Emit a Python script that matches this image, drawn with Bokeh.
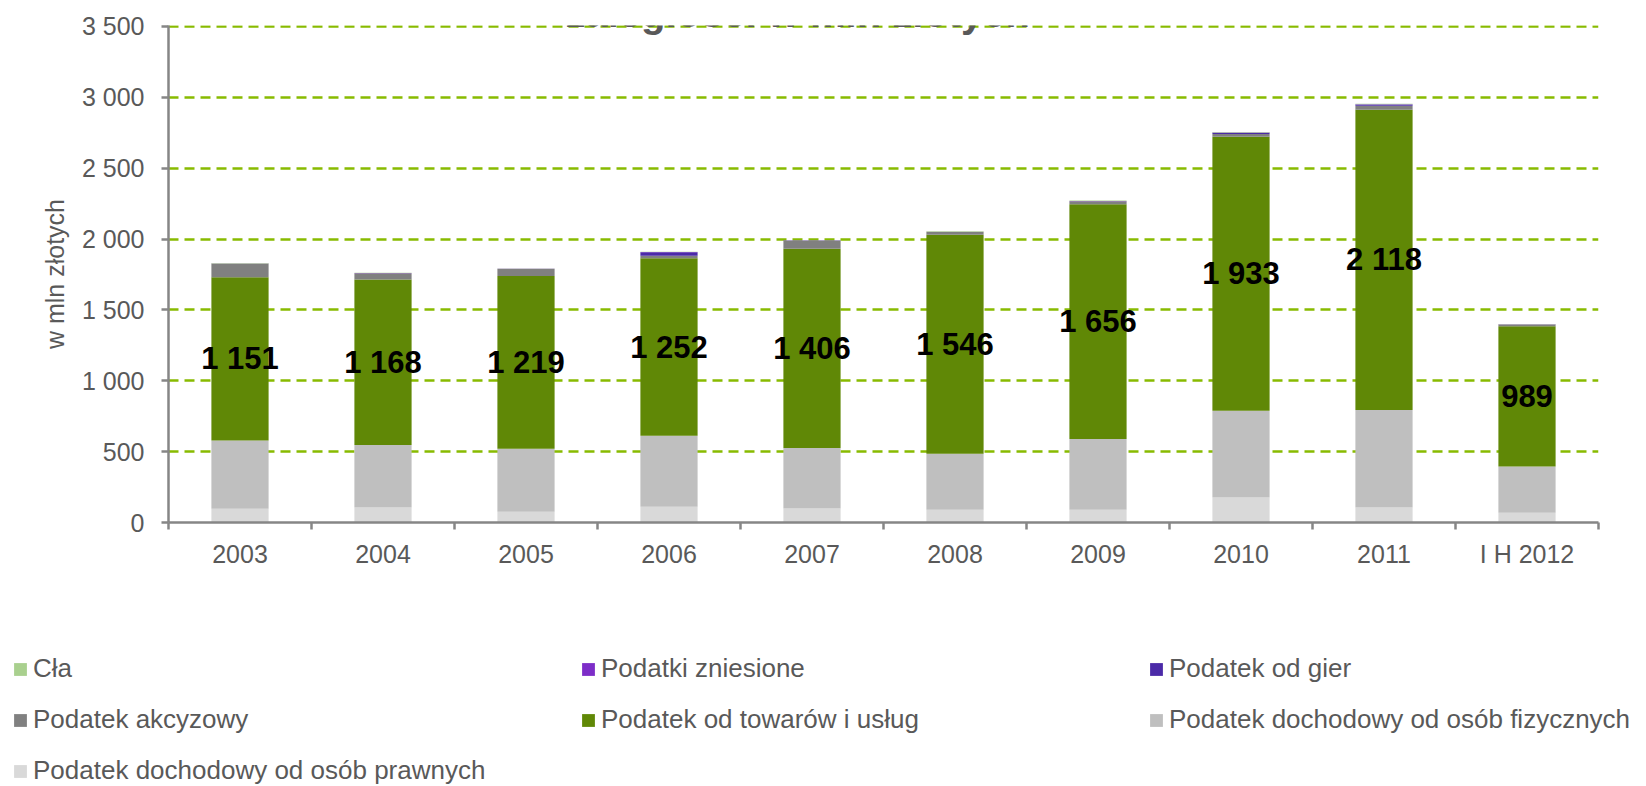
from bokeh.plotting import figure
from bokeh.layouts import column
from bokeh.models import Range1d, FixedTicker, Legend, LegendItem, Label, ColumnDataSource
from bokeh.core.properties import value
from bokeh.embed import file_html
from bokeh.resources import INLINE

# ---- data (values in mln zł) ----
categories = ["2003", "2004", "2005", "2006", "2007", "2008", "2009", "2010", "2011", "I H 2012"]
cit = [97, 106, 76, 111, 99, 90, 90, 177, 106, 68]          # Podatek dochodowy od osób prawnych
pit = [482, 440, 444, 501, 426, 395, 499, 612, 688, 328]    # Podatek dochodowy od osób fizycznych
vat = [1151, 1168, 1219, 1252, 1406, 1546, 1656, 1933, 2118, 989]  # Podatek od towarów i usług
akcyza = [95, 45, 50, 18, 58, 20, 22, 20, 28, 12]           # Podatek akcyzowy
gier = [0, 0, 0, 25, 1, 0, 0, 8, 10, 1]                     # Podatek od gier
zniesione = [3, 1, 1, 2, 1, 1, 1, 2, 2, 1]                  # Podatki zniesione
cla = [3, 2, 2, 2, 2, 3, 5, 3, 3, 2]                        # Cła

y_ticks = [0, 500, 1000, 1500, 2000, 2500, 3000, 3500]
y_tick_labels = ["0", "500", "1 000", "1 500", "2 000", "2 500", "3 000", "3 500"]

title_text = "zaległości w mln złotych"
y_title = "w mln złotych"

FONT = "Liberation Sans"
TXT = "#595959"
AX = "#868686"

n = len(categories)
xs = [i + 0.5 for i in range(n)]
bounds = [i for i in range(n + 1)]

def fmt(v):
    return f"{v:,}".replace(",", " ")

mid = [c + p_ + v / 2 for c, p_, v in zip(cit, pit, vat)]
source = ColumnDataSource(dict(x=xs, cit=cit, pit=pit, vat=vat, akcyza=akcyza, gier=gier,
                               zniesione=zniesione, cla=cla, mid=mid,
                               lbl=[fmt(v) for v in vat]))

p = figure(width=1646, height=600, x_range=Range1d(0, n), y_range=Range1d(0, 3507),
           output_backend="svg", toolbar_location=None,
           min_border_left=168, min_border_right=48, min_border_top=25, min_border_bottom=78,
           outline_line_color=None, background_fill_color="white", border_fill_color="white")

stack_keys = ["cit", "pit", "vat", "akcyza", "gier", "zniesione", "cla"]
stack_names = ["Podatek dochodowy od osób prawnych", "Podatek dochodowy od osób fizycznych",
               "Podatek od towarów i usług", "Podatek akcyzowy", "Podatek od gier",
               "Podatki zniesione", "Cła"]
stack_colors = ["#D9D9D9", "#BFBFBF", "#608806", "#808080", "#4B2AA8", "#7D2DC8", "#A9D08E"]

rs = p.vbar_stack(stack_keys, x="x", width=0.4, fill_color=stack_colors, line_color=None,
                  source=source)

p.text(x="x", y="mid", text="lbl", source=source, text_font=value(FONT),
       text_font_style="bold", text_font_size="31px", text_align="center",
       text_baseline="middle", text_color="black")

# axes
p.xaxis.ticker = FixedTicker(ticks=xs, minor_ticks=bounds)
p.xaxis.major_label_overrides = {x: c for x, c in zip(xs, categories)}
p.xaxis.major_tick_in = 0
p.xaxis.major_tick_out = 0
p.xaxis.minor_tick_in = 0
p.xaxis.minor_tick_out = 7
p.xaxis.minor_tick_line_color = AX
p.xaxis.minor_tick_line_width = 2.5
p.xaxis.major_label_standoff = 10

p.yaxis.ticker = FixedTicker(ticks=y_ticks)
p.yaxis.major_label_overrides = {t: l for t, l in zip(y_ticks, y_tick_labels)}
p.yaxis.major_tick_in = 0
p.yaxis.major_tick_out = 7
p.yaxis.major_tick_line_color = AX
p.yaxis.major_tick_line_width = 2.5
p.yaxis.minor_tick_line_color = None
p.yaxis.major_label_standoff = 17
p.yaxis.axis_label = y_title
p.yaxis.axis_label_text_font = FONT
p.yaxis.axis_label_text_font_size = "25px"
p.yaxis.axis_label_text_font_style = "normal"
p.yaxis.axis_label_text_color = TXT
p.yaxis.axis_label_standoff = 10

for ax in (p.xaxis, p.yaxis):
    ax.axis_line_color = AX
    ax.axis_line_width = 2.5
    ax.major_label_text_font = FONT
    ax.major_label_text_font_size = "25px"
    ax.major_label_text_color = TXT

p.xgrid.visible = False
p.ygrid.grid_line_color = "#88BB00"
p.ygrid.grid_line_dash = "10 6"
p.ygrid.grid_line_width = 2.5

# cropped title (only its lower part is visible in the original)
p.add_layout(Label(x=4.4, y=3595, text=title_text, text_font=FONT, text_font_size="40px",
                   text_font_style="bold", text_color=TXT, text_align="center",
                   text_baseline="alphabetic"))

# legend in a separate strip below the chart
leg = figure(width=1646, height=186, output_backend="svg", toolbar_location=None,
             x_axis_location=None, y_axis_location=None, min_border=0,
             outline_line_color=None, x_range=Range1d(0, 1), y_range=Range1d(0, 1))
leg.grid.visible = False
if "frame_align" in leg.properties():
    leg.frame_align = False

order = ["cla", "zniesione", "gier", "akcyza", "vat", "pit", "cit"]
items = []
for k in order:
    i = stack_keys.index(k)
    # swatch renderer for the legend only (kept well outside the visible range)
    r = leg.vbar(x=[-5], top=[-5], bottom=[-6], width=0.4, fill_color=stack_colors[i],
                 line_color=None)
    items.append(LegendItem(label=stack_names[i], renderers=[r]))

legend = Legend(items=items, orientation="horizontal", ncols=3, location=(12, 0),
                label_text_font=FONT, label_text_font_size="26px", label_text_color=TXT,
                glyph_width=16, glyph_height=16, label_standoff=5, label_width=527,
                label_height=30, spacing=20, padding=0, margin=0,
                border_line_alpha=0, background_fill_alpha=0)
leg.add_layout(legend)

layout = column(p, leg)
open("out.html", "w").write(file_html(layout, INLINE))
